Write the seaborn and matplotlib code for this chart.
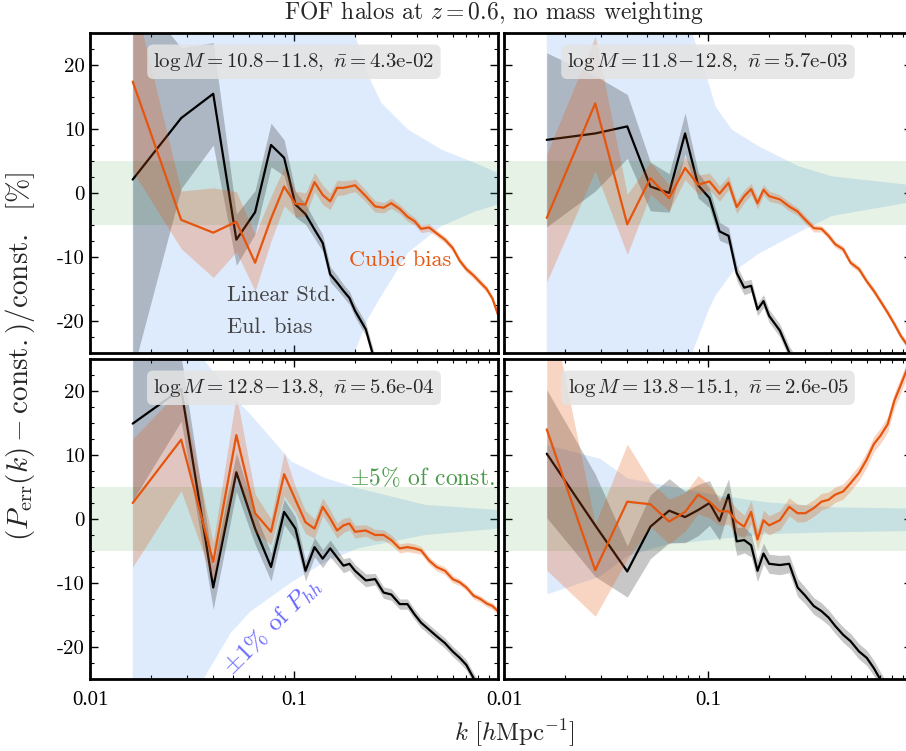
import numpy as np
import pandas as pd
import matplotlib
matplotlib.use("Agg")
import matplotlib.pyplot as plt
import seaborn as sns
from matplotlib.ticker import FixedLocator, MultipleLocator, LogLocator, NullFormatter

# =========================
# Data
# =========================
k = [0.0162, 0.028, 0.0402, 0.0522, 0.0645, 0.0772, 0.0895, 0.1017, 0.1139, 0.1261,
     0.1383, 0.1505, 0.1627, 0.1749, 0.1871, 0.1993, 0.225, 0.25, 0.275, 0.30,
     0.33, 0.36, 0.39, 0.42, 0.46, 0.50, 0.55, 0.60, 0.65, 0.70,
     0.76, 0.82, 0.88, 0.94, 1.0]

titles = ["$\\log M = 10.8\\!-\\!11.8,\\ \\bar{n} = $4.3e-02",
          "$\\log M = 11.8\\!-\\!12.8,\\ \\bar{n} = $5.7e-03",
          "$\\log M = 12.8\\!-\\!13.8,\\ \\bar{n} = $5.6e-04",
          "$\\log M = 13.8\\!-\\!15.1,\\ \\bar{n} = $2.6e-05"]

# linear std. Eulerian bias (black) and its error
lin_1 = [2.1, 11.7, 15.5, -7.3, -3.0, 7.5, 5.5, -1.8, -3.3, -5.7, -7.8, -12.7, -14.0, -15.3,
         -16.4, -18.4, -21.3, -26.5]
lin_err_1 = [30, 11, 8, 4, 3.4, 3.4, 2.8, 2.0, 1.6, 1.4, 1.3, 1.2, 1.1, 1.0, 1.0, 1.0, 1.0, 1.0]
lin_2 = [8.3, 9.3, 10.4, 1.0, 0.0, 9.3, 1.2, -0.8, -6.0, -6.7, -12.5, -14.8, -14.5, -18.2,
         -16.9, -19.2, -21.5, -24.9, -27.0]
lin_err_2 = [13.6, 9, 5, 3.8, 3, 3.2, 2, 1.5, 1.4, 1.3, 1.2, 1.1, 1.0, 1.0, 1.0, 1.0, 1.0, 1.0, 1.0]
lin_3 = [14.9, 20.3, -10.7, 7.3, -1.5, -7.5, 1.1, -1.5, -8.1, -4.4, -6.2, -4.6, -6.0, -7.3,
         -7.0, -8.1, -9.6, -9.4, -11.5, -11.8, -13.3, -13.3, -14.9, -16.2, -17.3, -18.3,
         -19.4, -20.7, -21.7, -22.8, -24.9, -26.5]
lin_err_3 = [12, 5, 3.4, 3, 2.5, 2.2, 2.0, 1.8, 1.6, 1.5, 1.4, 1.3, 1.2, 1.1, 1.0, 1.0, 1.0,
             0.9, 0.9, 0.9, 0.8, 0.8, 0.8, 0.8, 0.8, 0.8, 0.8, 0.8, 0.8, 0.8, 0.8, 0.8]
lin_4 = [10.2, -1.0, -8.2, -1.2, 1.3, 0.3, 1.4, 2.5, -0.3, 3.8, -3.5, -3.3, -4.1, -8.1,
         -5.4, -7.0, -7.2, -7.0, -10.7, -12.0, -13.6, -14.4, -15.4, -16.7, -18.1, -19.1,
         -20.7, -21.7, -23.3, -25.1, -27.0]
lin_err_4 = [10, 8, 4, 5, 5, 4, 4, 3.5, 3, 2.5, 2.2, 2.0, 1.8, 1.7, 1.6, 1.5, 1.5, 1.4, 1.4,
             1.3, 1.3, 1.3, 1.2, 1.2, 1.2, 1.2, 1.2, 1.2, 1.2, 1.2, 1.2]

# cubic bias (orange) and its error
cub_1 = [17.4, -4.2, -6.2, -4.5, -10.9, -4.0, 1.0, -1.7, -1.8, 1.7, -0.3, -1.3, 0.8, 0.8,
         1.0, 1.2, -0.5, -2.1, -2.3, -1.6, -2.5, -3.7, -4.4, -5.6, -5.4, -6.3, -7.3, -8.6,
         -10.6, -11.9, -12.9, -14.0, -15.0, -16.5, -19.0]
cub_err_1 = [14, 4.5, 7, 4.7, 4.4, 3.5, 3.0, 2.0, 1.8, 1.5, 1.5, 1.3, 1.2, 1.1, 1.0, 1.0,
             0.9, 0.9, 0.8, 0.8, 0.7, 0.7, 0.6, 0.6, 0.6, 0.5, 0.5, 0.5, 0.5, 0.5, 0.5,
             0.5, 0.5, 0.5, 0.5]
cub_2 = [-3.9, 14.0, -4.9, 2.3, -0.8, 3.9, 1.3, 1.8, -0.1, 1.6, -2.2, -0.5, 0.6, -1.6,
         0.5, -0.5, -1.0, -2.1, -2.9, -4.2, -5.5, -5.6, -6.7, -8.0, -8.8, -10.9, -11.9,
         -13.8, -15.3, -16.9, -18.7, -20.5, -22.3, -23.6, -25.5]
cub_err_2 = [10, 10.5, 4.7, 2.5, 2.0, 1.8, 1.5, 1.3, 1.2, 1.1, 1.0, 1.0, 0.9, 0.9, 0.8,
             0.8, 0.7, 0.7, 0.6, 0.6, 0.6, 0.5, 0.5, 0.5, 0.5, 0.5, 0.5, 0.5, 0.5, 0.5,
             0.5, 0.5, 0.5, 0.5, 0.5]
cub_3 = [2.5, 12.4, -6.7, 13.1, 0.9, -2.0, 7.0, 3.0, -0.5, -1.5, 1.9, 0.1, -1.8, -1.0,
         -0.7, -2.0, -1.8, -2.5, -2.5, -3.3, -4.6, -4.4, -4.6, -4.9, -6.5, -7.5, -8.1,
         -9.4, -9.9, -10.7, -12.0, -12.5, -13.2, -13.6, -14.4]
cub_err_3 = [10, 8, 3, 6.3, 3, 2, 3.4, 2, 1.8, 1.5, 1.4, 1.3, 1.2, 1.1, 1.0, 1.0, 0.9,
             0.9, 0.8, 0.8, 0.7, 0.7, 0.7, 0.6, 0.6, 0.6, 0.6, 0.6, 0.5, 0.5, 0.5, 0.5,
             0.5, 0.5, 0.5]
cub_4 = [14.0, -8.0, 2.7, 2.3, -0.4, 1.1, 3.8, 2.7, 1.2, 1.2, -0.4, -1.2, 1.1, -3.2,
         -0.2, -1.0, -0.2, 1.9, 0.9, 0.9, 1.7, 2.7, 3.0, 3.8, 4.3, 5.6, 7.2, 9.3, 11.7,
         13.0, 14.8, 18.5, 20.9, 23.2, 26.0]
cub_err_4 = [22, 7.2, 9, 3.5, 3.5, 3, 3, 2.5, 2.2, 2, 2, 1.8, 1.8, 1.6, 1.6, 1.5, 1.5,
             1.4, 1.4, 1.3, 1.3, 1.3, 1.2, 1.2, 1.2, 1.2, 1.2, 1.2, 1.2, 1.2, 1.2, 1.2,
             1.2, 1.2, 1.2]

# +-1% of P_hh band (upper / lower edge)
band_k_1 = [0.0162, 0.15, 0.198, 0.23, 0.268, 0.363, 0.527, 0.77, 1.0]
band_hi_1 = [90, 34, 25, 18.5, 14.1, 9.9, 6.8, 4.7, 3.1]
band_lo_1 = [-90, -34, -25, -19.7, -16.1, -9.3, -5.2, -2.9, -1.8]
band_k_2 = [0.0162, 0.06, 0.0837, 0.101, 0.109, 0.131, 0.177, 0.277, 0.404, 1.0]
band_hi_2 = [150, 40, 25, 17, 13.5, 9.9, 7.3, 4.2, 2.6, 1.2]
band_lo_2 = [-150, -40, -25, -18.2, -16, -12.5, -9.5, -6.2, -3.6, -1.4]
band_k_3 = [0.0162, 0.036, 0.049, 0.061, 0.097, 0.142, 0.205, 0.44, 1.0]
band_hi_3 = [60, 25, 19.5, 16.4, 9.0, 6.4, 4.8, 2.2, 1.4]
band_lo_3 = [-60, -25, -17.8, -14.5, -9.9, -6.7, -4.6, -2.5, -1.5]
band_k_4 = [0.0162, 0.0294, 0.0402, 0.0621, 0.109, 0.191, 0.404, 1.0]
band_hi_4 = [11.6, 9.5, 6.4, 5.3, 3.8, 2.7, 1.9, 1.7]
band_lo_4 = [-11.7, -8.9, -5.7, -3.9, -3.1, -2.3, -2.0, -1.8]

lin = [lin_1, lin_2, lin_3, lin_4]
lin_err = [lin_err_1, lin_err_2, lin_err_3, lin_err_4]
cub = [cub_1, cub_2, cub_3, cub_4]
cub_err = [cub_err_1, cub_err_2, cub_err_3, cub_err_4]
band_k = [band_k_1, band_k_2, band_k_3, band_k_4]
band_hi = [band_hi_1, band_hi_2, band_hi_3, band_hi_4]
band_lo = [band_lo_1, band_lo_2, band_lo_3, band_lo_4]

# =========================
# Style
# =========================
sns.set_theme(style="ticks")
plt.rcParams.update({
    "font.family": ["cmr10", "DejaVu Serif"],
    "mathtext.fontset": "cm",
    "axes.unicode_minus": False,
    "axes.formatter.use_mathtext": True,
    "axes.linewidth": 2.0,
    "axes.edgecolor": "black",
    "xtick.direction": "in",
    "ytick.direction": "in",
    "xtick.top": True,
    "ytick.right": True,
    "xtick.major.size": 6,
    "ytick.major.size": 6,
    "xtick.minor.size": 3,
    "ytick.minor.size": 3,
    "xtick.major.width": 1.0,
    "ytick.major.width": 1.0,
    "xtick.minor.width": 0.8,
    "ytick.minor.width": 0.8,
    "xtick.color": "black",
    "ytick.color": "black",
})

ORANGE = "#e6550d"
BLUE = "#3d8bf0"

fig = plt.figure(figsize=(9.06, 7.51), dpi=100)
W, H = 0.4503, 0.4261
positions = [[0.0993, 0.530, W, H], [0.5563, 0.530, W, H],
             [0.0993, 0.0959, W, H], [0.5563, 0.0959, W, H]]

for i in range(4):
    ax = fig.add_axes(positions[i])
    ax.set_xscale("log")

    # bands
    ax.fill_between(band_k[i], band_lo[i], band_hi[i], color=BLUE,
                    alpha=0.17, lw=0, zorder=1)
    ax.axhspan(-5, 5, color="green", alpha=0.1, lw=0, zorder=1.5)

    n = len(lin[i])
    kl = np.array(k[:n])
    yl = np.array(lin[i])
    el = np.array(lin_err[i])
    ax.fill_between(kl, yl - el, yl + el, color="black", alpha=0.22, lw=0, zorder=2)
    sns.lineplot(x=kl, y=yl, ax=ax, color="black", lw=1.6, sort=False,
                 estimator=None, zorder=3)

    yc = np.array(cub[i])
    ec = np.array(cub_err[i])
    ax.fill_between(k, yc - ec, yc + ec, color=ORANGE, alpha=0.25, lw=0, zorder=4)
    sns.lineplot(x=k, y=yc, ax=ax, color=ORANGE, lw=1.6, sort=False,
                 estimator=None, zorder=5)

    ax.set_xlim(0.01, 1.0)
    ax.set_ylim(-25, 25)
    ax.xaxis.set_major_locator(FixedLocator([0.01, 0.1]))
    ax.xaxis.set_minor_locator(LogLocator(base=10, subs=np.arange(2, 10)))
    ax.xaxis.set_minor_formatter(NullFormatter())
    ax.yaxis.set_major_locator(MultipleLocator(10))
    ax.yaxis.set_minor_locator(MultipleLocator(2.5))
    ax.set_xlabel("")
    ax.set_ylabel("")

    if i >= 2:
        ax.set_xticklabels(["0.01", "0.1"], fontsize=15, family="Liberation Serif")
    else:
        ax.set_xticklabels([])
    if i % 2 == 0:
        ax.set_yticks([-20, -10, 0, 10, 20])
        ax.set_yticklabels(["-20", "-10", "0", "10", "20"], fontsize=15)
    else:
        ax.set_yticklabels([])
    ax.tick_params(axis="x", pad=9)

    ax.text(0.5, 0.91, titles[i], transform=ax.transAxes, ha="center", va="center",
            fontsize=15, zorder=10,
            bbox=dict(boxstyle="round,pad=0.3", facecolor="#e3e3e3", edgecolor="none",
                      alpha=0.85))
    for s in ax.spines.values():
        s.set_zorder(11)

    if i == 0:
        ax.text(0.76, 0.29, "Cubic bias", transform=ax.transAxes, ha="center",
                va="center", color=ORANGE, fontsize=16, zorder=10)
        ax.text(0.336, 0.181, "Linear Std.", transform=ax.transAxes, ha="left",
                va="center", color="#444444", fontsize=16, zorder=10)
        ax.text(0.336, 0.081, "Eul. bias", transform=ax.transAxes, ha="left",
                va="center", color="#444444", fontsize=16, zorder=10)
    if i == 2:
        ax.text(0.993, 0.628, "$\\pm$5% of const.", transform=ax.transAxes, ha="right",
                va="center", color="#4a9a4a", fontsize=17, zorder=10)
        ax.text(0.449, 0.163, "$\\pm$1% of $P_{hh}$", transform=ax.transAxes,
                ha="center", va="center", color="#6464ff", fontsize=18, rotation=45,
                zorder=10)

fig.text(0.545, 0.984, "FOF halos at $z = 0.6$, no mass weighting", ha="center",
         va="center", fontsize=17)
fig.text(0.568, 0.024, "$k\\ [h{\\rm Mpc}^{-1}]$", ha="center", va="center", fontsize=18)
fig.text(0.022, 0.526, "$(P_{\\rm err}(k) - {\\rm const.})/{\\rm const.}\\ \\ [\\%]$",
         ha="center", va="center", rotation=90, fontsize=21)

fig.savefig("out.png", dpi=100)
